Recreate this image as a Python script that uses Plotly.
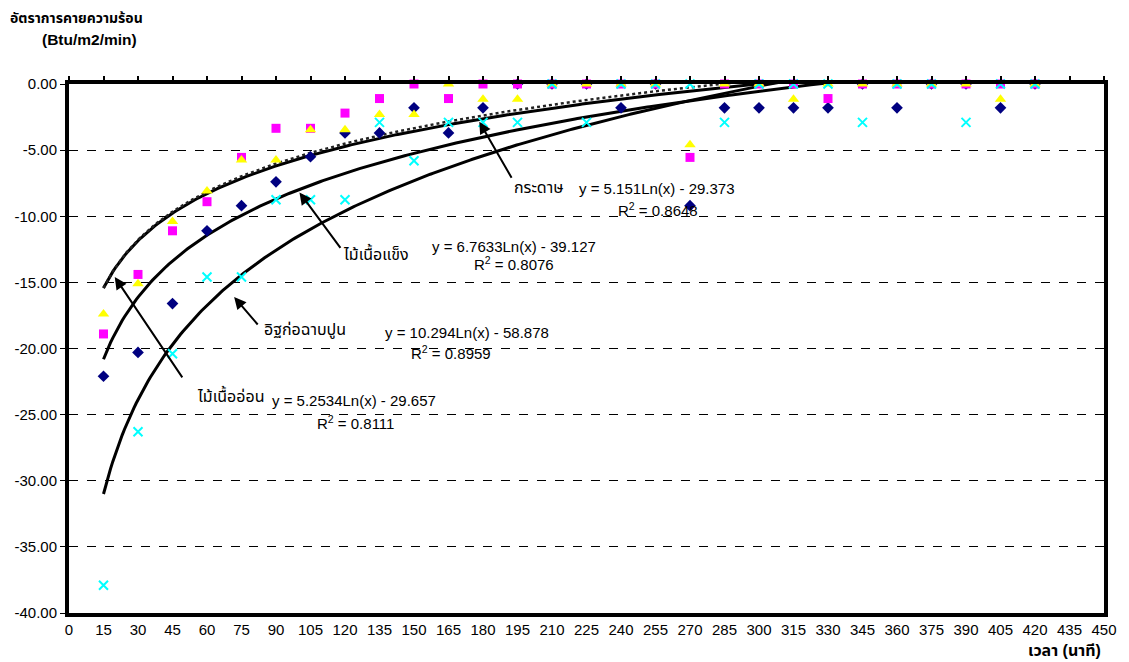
import numpy as np
import plotly.graph_objects as go

# Time (minutes)
minutes = [15, 30, 45, 60, 75, 90, 105, 120, 135, 150, 165, 180, 195, 210,
           225, 240, 255, 270, 285, 300, 315, 330, 345, 360, 375, 390, 405, 420]

# Heat release rate (Btu/m2/min) per material
hardwood = [-22.1, -20.3, -16.6, -11.1, -9.2, -7.4, -5.5, -3.7, -3.7, -1.8,
            -3.7, -1.8, 0.0, 0.0, 0.0, -1.8, 0.0, -9.2, -1.8, -1.8,
            -1.8, -1.8, 0.0, -1.8, 0.0, 0.0, -1.8, 0.0]
paper = [-18.9, -14.4, -11.1, -8.9, -5.55, -3.35, -3.35, -2.2, -1.1, 0.0,
         -1.1, 0.0, 0.0, 0.0, 0.0, 0.0, 0.0, -5.55, 0.0, 0.0,
         0.0, -1.1, 0.0, 0.0, 0.0, 0.0, 0.0, 0.0]
softwood = [-17.4, -15.1, -10.4, -8.1, -5.75, -5.75, -3.45, -3.45, -2.3, -2.3,
            0.0, -1.15, -1.15, 0.0, 0.0, 0.0, 0.0, -4.6, 0.0, 0.0,
            -1.15, 0.0, 0.0, 0.0, 0.0, 0.0, -1.15, 0.0]
brick = [-37.9, -26.3, -20.4, -14.6, -14.6, -8.75, -8.75, -8.75, -2.9, -5.8,
         -2.9, -2.9, -2.9, 0.0, -2.9, 0.0, 0.0, 0.0, -2.9, 0.0,
         0.0, 0.0, -2.9, 0.0, 0.0, -2.9, 0.0, 0.0]

# Logarithmic trend lines: (slope, intercept, R^2)
fit_paper = (5.151, -29.373, 0.8648)
fit_hardwood = (6.7633, -39.127, 0.8076)
fit_brick = (10.294, -58.878, 0.8959)
fit_softwood = (5.2534, -29.657, 0.8111)

x_ticks = list(range(0, 451, 15))
y_ticks = [0, -5, -10, -15, -20, -25, -30, -35, -40]

FONT = "Arial, Liberation Sans, Noto Sans Thai, Noto Sans, sans-serif"

fig = go.Figure()

xs = np.linspace(15, 420, 400)


def log_curve(fit):
    a, b, _ = fit
    return a * np.log(xs) + b


fig.add_trace(go.Scatter(x=xs, y=log_curve(fit_brick), mode="lines",
                         line=dict(color="black", width=3), showlegend=False, hoverinfo="skip"))
fig.add_trace(go.Scatter(x=xs, y=log_curve(fit_hardwood), mode="lines",
                         line=dict(color="black", width=3), showlegend=False, hoverinfo="skip"))
fig.add_trace(go.Scatter(x=xs, y=log_curve(fit_paper), mode="lines",
                         line=dict(color="black", width=3), showlegend=False, hoverinfo="skip"))
fig.add_trace(go.Scatter(x=xs, y=log_curve(fit_softwood), mode="lines",
                         line=dict(color="#222222", width=2.5, dash="dot"), showlegend=False,
                         hoverinfo="skip"))

fig.add_trace(go.Scatter(x=minutes, y=hardwood, mode="markers", cliponaxis=False,
                         marker=dict(symbol="diamond", color="#000080", size=9),
                         showlegend=False))
fig.add_trace(go.Scatter(x=minutes, y=paper, mode="markers", cliponaxis=False,
                         marker=dict(symbol="square", color="#FF00FF", size=9),
                         showlegend=False))
fig.add_trace(go.Scatter(x=minutes, y=softwood, mode="markers", cliponaxis=False,
                         marker=dict(symbol="triangle-up", color="#FFFF00", size=10),
                         showlegend=False))
fig.add_trace(go.Scatter(x=minutes, y=brick, mode="markers", cliponaxis=False,
                         marker=dict(symbol="x-thin", color="#00FFFF", size=9,
                                     line=dict(color="#00FFFF", width=2)),
                         showlegend=False))

annotations = []


def label_with_arrow(text, tx, ty, tail_x, tail_y, tip_x, tip_y):
    annotations.append(dict(x=tip_x, y=tip_y, ax=tail_x, ay=tail_y, xref="x", yref="y",
                            axref="x", ayref="y", text="", showarrow=True,
                            arrowhead=2, arrowsize=1.2, arrowwidth=2, arrowcolor="black"))
    annotations.append(dict(x=tx, y=ty, xref="x", yref="y", text=text, showarrow=False,
                            font=dict(family=FONT, size=16, color="black")))


def equation(fit, ex, ey, rx, ry):
    a, b, r2 = fit
    annotations.append(dict(x=ex, y=ey, xref="x", yref="y", showarrow=False,
                            text=f"y = {a:g}Ln(x) - {abs(b):g}",
                            font=dict(family=FONT, size=15, color="black")))
    annotations.append(dict(x=rx, y=ry, xref="x", yref="y", showarrow=False,
                            text=f"R<sup>2</sup> = {r2:.4f}",
                            font=dict(family=FONT, size=15, color="black")))


label_with_arrow("กระดาษ", 204, -7.8, 192.8, -7.2, 178.4, -2.85)
label_with_arrow("ไม้เนื้อแข็ง", 133.5, -12.8, 118.5, -12.5, 100.2, -8.2)
label_with_arrow("อิฐก่อฉาบปูน", 102.5, -18.6, 82.6, -18.3, 71.8, -16.1)
label_with_arrow("ไม้เนื้ออ่อน", 70, -23.5, 49.7, -22.3, 19.9, -14.6)

equation(fit_paper, 255.5, -7.9, 256, -9.5)
equation(fit_hardwood, 193.5, -12.3, 193.5, -13.6)
equation(fit_brick, 173, -18.8, 166, -20.3)
equation(fit_softwood, 124, -23.9, 124.5, -25.6)

# Axis titles
annotations.append(dict(x=0.0077, y=1.1248, xref="paper", yref="paper", showarrow=False,
                        xanchor="center", yanchor="middle", text="<b>อัตราการคายความร้อน</b>",
                        font=dict(family=FONT, size=14, color="black")))
annotations.append(dict(x=0.0202, y=1.0832, xref="paper", yref="paper", showarrow=False,
                        xanchor="center", yanchor="middle", text="<b>(Btu/m2/min)</b>",
                        font=dict(family=FONT, size=15.5, color="black")))
annotations.append(dict(x=0.9995, y=-0.0718, xref="paper", yref="paper", showarrow=False,
                        xanchor="right", yanchor="middle", text="<b>เวลา (นาที)</b>",
                        font=dict(family=FONT, size=16, color="black")))

fig.update_layout(
    width=1129, height=662,
    margin=dict(l=69, r=21, t=84, b=49),
    plot_bgcolor="white", paper_bgcolor="white",
    font=dict(family=FONT, size=14, color="black"),
    annotations=annotations,
    xaxis=dict(range=[0, 450], tickvals=x_ticks, ticktext=[str(v) for v in x_ticks],
               showgrid=False, zeroline=False, showline=True, linecolor="black",
               linewidth=4, mirror=True, ticks="", tickfont=dict(size=15)),
    xaxis2=dict(range=[0, 450], tickvals=x_ticks, overlaying="x", side="top", anchor="y",
                showticklabels=False, ticks="outside", ticklen=7, tickwidth=1.5,
                tickcolor="black", showgrid=False, zeroline=False, showline=False),
    yaxis=dict(range=[-40, 0], tickvals=y_ticks, ticktext=[f"{v:.2f}" for v in y_ticks],
               showgrid=True, gridcolor="black", gridwidth=1, griddash="dash",
               zeroline=False, showline=True, linecolor="black", linewidth=4, mirror=True,
               ticks="outside", ticklen=5, tickcolor="black", tickfont=dict(size=15)),
)

# Tick marks along the top edge (where the time axis crosses zero)
fig.add_trace(go.Scatter(x=[0], y=[0], xaxis="x2", yaxis="y", mode="markers",
                         marker=dict(opacity=0), showlegend=False, hoverinfo="skip"))

fig.write_html("out.html")
